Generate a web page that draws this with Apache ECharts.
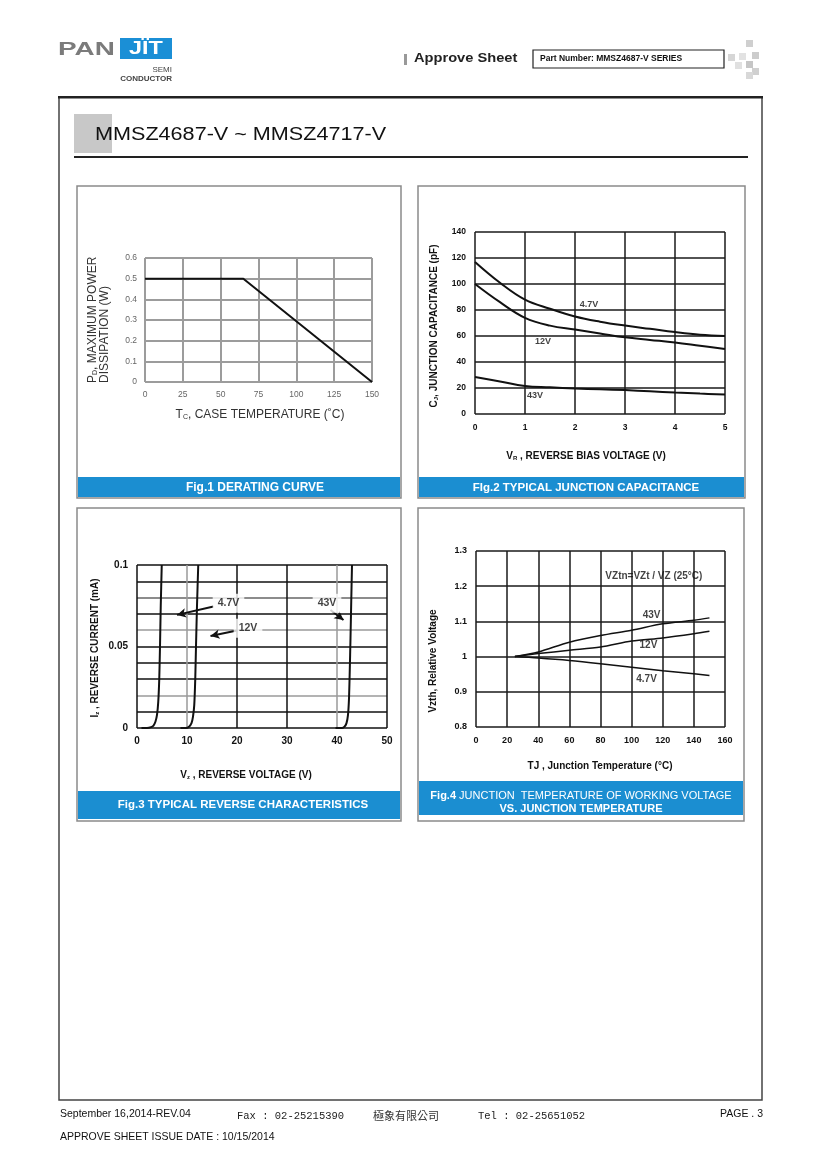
<!DOCTYPE html>
<html><head><meta charset="utf-8">
<script src="https://cdn.jsdelivr.net/npm/echarts@6/dist/echarts.min.js"></script>
<style>html,body{margin:0;padding:0;background:#fff}#c{width:820px;height:1160px}</style>
</head><body><div id="c"></div>
<script>
// ---------- DATA ----------
// Fig.1 derating curve  [Tc (°C), Pd (W)]
const fig1Derating = [[0,0.5],[65,0.5],[150,0]];

// Fig.2 junction capacitance [Vr (V), Cj (pF)]
const cap47 = [[0,117],[0.5,101],[1,88],[1.5,81],[2,75],[2.5,71],[3,68],[3.5,65.5],[4,63],[4.5,61],[5,60]];
const cap12 = [[0,100],[0.5,86],[1,74],[1.5,68],[2,65],[2.5,62],[3,59],[3.5,57],[4,55],[4.5,52.5],[5,50]];
const cap43 = [[0,28.5],[0.5,25],[1,21.5],[1.5,20.5],[2,19.6],[2.5,19],[3,18.4],[3.5,17.5],[4,16.5],[4.5,15.7],[5,15]];
const fig2Labels = [{name:'4.7V', value:[2.28,84.5]},{name:'12V', value:[1.36,56]},{name:'43V', value:[1.2,14]}];

// Fig.3 reverse characteristics [Vz (V), Iz (mA)]
const rev47 = [[0.9,0],[2,0],[2.8,0.0005],[3.3,0.0015],[3.7,0.004],[4.0,0.008],[4.25,0.016],[4.45,0.03],[4.6,0.05],[4.75,0.075],[4.95,0.1]];
const rev12 = [[8.7,0],[9.8,0],[10.4,0.0008],[10.9,0.003],[11.2,0.007],[11.45,0.014],[11.65,0.03],[11.8,0.05],[12.0,0.075],[12.25,0.1]];
const rev43 = [[39.7,0],[41,0],[41.5,0.0008],[41.9,0.003],[42.2,0.008],[42.4,0.018],[42.55,0.035],[42.7,0.055],[42.85,0.078],[43.0,0.1]];
const fig3Labels = [{name:'4.7V', value:[18.3,0.0765]},{name:'12V', value:[22.2,0.0612]},{name:'43V', value:[38,0.0765]}];
const fig3Arrows = [
  [[15.3,0.0745],[8.0,0.0694]],
  [[20.0,0.0598],[14.7,0.0565]],
  [[38.7,0.0724],[41.3,0.0663]]
];
const fig3YTickLabels = [0, 0.05, 0.1];

// Fig.4 relative working voltage vs junction temperature [Tj (°C), Vztn]
const vz43 = [[25,1],[40,1.013],[60,1.041],[80,1.06],[100,1.075],[120,1.093],[140,1.103],[150,1.11]];
const vz12 = [[25,1],[40,1.0085],[60,1.018],[80,1.027],[100,1.044],[120,1.053],[140,1.065],[150,1.072]];
const vz47 = [[25,1],[40,0.996],[60,0.989],[80,0.98],[100,0.97],[120,0.96],[140,0.951],[150,0.946]];
const fig4Labels = [{name:'43V', value:[112.8,1.118]},{name:'12V', value:[110.8,1.031]},{name:'4.7V', value:[109.6,0.935]},{name:'VZtn=VZt / VZ (25°C)', value:[114.3,1.227]}];

// ---------- CHART ----------
const SANS = '"Liberation Sans", Arial, sans-serif';
const chart = echarts.init(document.getElementById('c'), null, {renderer:'canvas'});

function axisCommon(extra){
  return Object.assign({
    axisLine:{show:false}, axisTick:{show:false},
    splitLine:{show:true, showMinLine:true, showMaxLine:true, lineStyle:{color:'#1a1a1a', width:1.5}},
    axisLabel:{showMinLabel:true, showMaxLabel:true, fontFamily:SANS, fontWeight:'bold', fontSize:9, color:'#111'}
  }, extra);
}
function T(x,y,text,o){
  o = o||{};
  const st = Object.assign({text:text, x:0, y:0, fill:o.fill||'#111',
    fontFamily:o.family||SANS, fontSize:o.size||10, fontWeight:o.weight||'normal',
    textAlign:o.align||'left', align:o.align||'left',
    textVerticalAlign:o.valign||'middle', verticalAlign:o.valign||'middle'}, o.style||{});
  if (o.rich) st.rich = o.rich;
  const el = {type:'text', x:x, y:y, z:100, style:st};
  if (o.rot) el.rotation = o.rot;
  if (o.sx) el.scaleX = o.sx;
  return el;
}
function R(x,y,w,h,fill,stroke,lw){
  return {type:'rect', z:1, shape:{x:x,y:y,width:w,height:h},
    style:{fill:fill||'none', stroke:stroke||null, lineWidth:lw||0}};
}
function sub(main, s, size, weight, fill, rest){
  return {text:'{a|'+main+'}{b|'+s+'}{a|'+rest+'}',
    rich:{a:{fontSize:size, fontWeight:weight, fill:fill, fontFamily:SANS, lineHeight:size+4, verticalAlign:'bottom'},
          b:{fontSize:Math.round(size*0.62), fontWeight:weight, fill:fill, fontFamily:SANS, lineHeight:size+4, verticalAlign:'bottom'}}};
}
function subText(x,y,main,s,rest,size,weight,fill,align,rot){
  const r = sub(main,s,size,weight,fill,rest);
  return T(x,y,r.text,{align:align, rot:rot, rich:r.rich, size:size, weight:weight, fill:fill});
}
function labelSeries(xi, data, size, bg){
  return {type:'scatter', xAxisIndex:xi, yAxisIndex:xi, data:data, symbol:'circle', symbolSize:1,
    itemStyle:{color:'rgba(0,0,0,0)'}, silent:true, z:5,
    label:{show:true, position:'inside', formatter:'{b}', fontFamily:SANS, fontWeight:'bold', fontSize:size, color:'#111',
      backgroundColor:bg||'transparent', padding:bg?[4,5]:0}};
}
function lineSeries(xi, data, w, sm){
  return {type:'line', xAxisIndex:xi, yAxisIndex:xi, data:data, showSymbol:false, symbol:'none',
    smooth:sm, lineStyle:{color:'#111', width:w}, silent:true, z:3};
}

const graphic = [];
// header
graphic.push(T(58,50,'PAN',{size:18, weight:'bold', fill:'#7b7b7b', sx:1.55}));
graphic.push(R(120,38,52,21,'#1b8fd6'));
graphic.push(T(146,49,'JÏT',{size:18, weight:'bold', fill:'#fff', align:'center', sx:1.3}));
graphic.push(T(172,70,'SEMI',{size:8, fill:'#444', align:'right'}));
graphic.push(T(172,79,'CONDUCTOR',{size:8, weight:'bold', fill:'#444', align:'right'}));
graphic.push(R(404,54,3,11,'#999'));
graphic.push(T(414,59,'Approve Sheet',{size:12, weight:'bold', fill:'#222', sx:1.22}));
graphic.push(R(533,50,191,18,'#fff','#222',1.2));
graphic.push(T(540,59,'Part Number: MMSZ4687-V SERIES',{size:8.5, weight:'bold', fill:'#111'}));
[[746,40,'#cfcfcf'],[728,54,'#d6d6d6'],[739,53,'#e2e2e2'],[752,52,'#cccccc'],[746,61,'#c6c6c6'],[735,62,'#e0e0e0'],[752,68,'#d0d0d0'],[746,72,'#d8d8d8']]
  .forEach(s=>graphic.push(R(s[0],s[1],7,7,s[2])));
// page frame
graphic.push(R(59,97,703,1003,'none','#444',1.5));
graphic.push(R(58,96,705,2.5,'#222'));
// title
graphic.push(R(74,114,38,39,'#c8c8c8'));
graphic.push(T(95,135,'MMSZ4687-V ~ MMSZ4717-V',{size:18, fill:'#111', sx:1.2}));
graphic.push(R(74,156,674,2,'#222'));
// panels
graphic.push(R(77,186,324,312,'none','#8a8a8a',1.5));
graphic.push(R(418,186,327,312,'none','#8a8a8a',1.5));
graphic.push(R(77,508,324,313,'none','#8a8a8a',1.5));
graphic.push(R(418,508,326,313,'none','#8a8a8a',1.5));
graphic.push(R(78,477,322,20,'#1b8ed1'));
graphic.push(R(419,477,325,20,'#1b8ed1'));
graphic.push(R(78,791,322,28,'#1b8ed1'));
graphic.push(R(419,781,324,34,'#1b8ed1'));
graphic.push(T(255,488,'Fig.1 DERATING CURVE',{size:12, weight:'bold', fill:'#fff', align:'center'}));
graphic.push(T(586,488,'FIg.2 TYPICAL JUNCTION CAPACITANCE',{size:11.5, weight:'bold', fill:'#fff', align:'center'}));
graphic.push(T(243,805,'Fig.3 TYPICAL REVERSE CHARACTERISTICS',{size:11.5, weight:'bold', fill:'#fff', align:'center'}));
graphic.push(T(581,796,'{b|Fig.4} {a|JUNCTION  TEMPERATURE OF WORKING VOLTAGE}',{size:11, fill:'#fff', align:'center',
  rich:{b:{fontSize:11, fontWeight:'bold', fill:'#fff', fontFamily:SANS}, a:{fontSize:11, fontWeight:'normal', fill:'#fff', fontFamily:SANS}}}));
graphic.push(T(581,809,'VS. JUNCTION TEMPERATURE',{size:11, weight:'bold', fill:'#fff', align:'center'}));
// axis names
graphic.push(subText(91,383,'P','D',', MAXIMUM POWER',12,'normal','#333','left',Math.PI/2));
graphic.push(T(105,383,'DISSIPATION (W)',{size:12, fill:'#333', rot:Math.PI/2}));
graphic.push(subText(260,413,'T','C',', CASE TEMPERATURE (˚C)',12,'normal','#333','center'));
graphic.push(subText(432,326,'C','J',', JUNCTION CAPACITANCE (pF)',10,'bold','#111','center',Math.PI/2));
graphic.push(subText(586,454,'V','R',' , REVERSE BIAS VOLTAGE (V)',10,'bold','#111','center'));
graphic.push(subText(93,648,'I','z',' , REVERSE CURRENT (mA)',10,'bold','#111','center',Math.PI/2));
graphic.push(subText(246,773,'V','z',' , REVERSE VOLTAGE (V)',10,'bold','#111','center'));
graphic.push(T(433,661,'Vzth, Relative Voltage',{size:10, weight:'bold', rot:Math.PI/2, align:'center'}));
graphic.push(T(600,766,'TJ , Junction Temperature (°C)',{size:10, weight:'bold', align:'center'}));
// footer
graphic.push(T(60,1114,'September 16,2014-REV.04',{size:10.5, fill:'#111'}));
graphic.push(T(237,1116,'Fax : 02-25215390',{size:10.5, fill:'#222', family:'"Liberation Mono", monospace'}));
graphic.push(T(373,1116,'極象有限公司',{size:11, fill:'#333', family:'"Noto Sans CJK TC", sans-serif'}));
graphic.push(T(478,1116,'Tel : 02-25651052',{size:10.5, fill:'#222', family:'"Liberation Mono", monospace'}));
graphic.push(T(763,1114,'PAGE . 3',{size:10.5, fill:'#111', align:'right'}));
graphic.push(T(60,1137,'APPROVE SHEET ISSUE DATE : 10/15/2014',{size:10.5, fill:'#111'}));

const option = {
  animation:false,
  backgroundColor:'#fff',
  grid:[
    {left:145, top:258, width:227, height:124},
    {left:475, top:232, width:250, height:182},
    {left:137, top:565, width:250, height:163},
    {left:476, top:551, width:249, height:176}
  ],
  xAxis:[
    axisCommon({gridIndex:0, type:'value', min:0, max:150, interval:25,
      splitLine:{show:true, showMinLine:true, showMaxLine:true, lineStyle:{color:'#9c9c9c', width:2}},
      axisLabel:{fontFamily:SANS, fontSize:8.5, color:'#666', margin:8}}),
    axisCommon({gridIndex:1, type:'value', min:0, max:5, interval:1, axisLabel:{fontFamily:SANS, fontWeight:'bold', fontSize:8.5, color:'#111', margin:9}}),
    axisCommon({gridIndex:2, type:'value', min:0, max:50, interval:10,
      splitLine:{show:true, showMinLine:true, showMaxLine:true, lineStyle:{color:['#111','#9a9a9a','#111','#111','#9a9a9a','#111'], width:1.5}},
      axisLabel:{fontFamily:SANS, fontWeight:'bold', fontSize:10, color:'#111', margin:8}}),
    axisCommon({gridIndex:3, type:'value', min:0, max:160, interval:20, axisLabel:{fontFamily:SANS, fontWeight:'bold', fontSize:9, color:'#111', margin:9}})
  ],
  yAxis:[
    axisCommon({gridIndex:0, type:'value', min:0, max:0.6, interval:0.1,
      splitLine:{show:true, showMinLine:true, showMaxLine:true, lineStyle:{color:'#9c9c9c', width:2}},
      axisLabel:{fontFamily:SANS, fontSize:8.5, color:'#666', margin:8}}),
    axisCommon({gridIndex:1, type:'value', min:0, max:140, interval:20, axisLabel:{fontFamily:SANS, fontWeight:'bold', fontSize:8.5, color:'#111', margin:9}}),
    axisCommon({gridIndex:2, type:'value', min:0, max:0.1, interval:0.01,
      splitLine:{show:true, showMinLine:true, showMaxLine:true, lineStyle:{color:['#111','#111','#9a9a9a','#111','#111','#111','#9a9a9a','#111','#666','#111','#111'], width:1.5}},
      axisLabel:{fontFamily:SANS, fontWeight:'bold', fontSize:10, color:'#111', margin:9,
        formatter:function(v){ for (const t of fig3YTickLabels){ if (Math.abs(v-t)<1e-9) return String(t); } return ''; }}}),
    axisCommon({gridIndex:3, type:'value', min:0.8, max:1.3, interval:0.1, axisLabel:{fontFamily:SANS, fontWeight:'bold', fontSize:9, color:'#111', margin:9}})
  ],
  series:[
    {type:'line', xAxisIndex:0, yAxisIndex:0, data:fig1Derating, showSymbol:false, symbol:'none', lineStyle:{color:'#111', width:2}, silent:true, z:3},
    lineSeries(1, cap47, 2, 0.4), lineSeries(1, cap12, 2, 0.4), lineSeries(1, cap43, 2, 0.4),
    labelSeries(1, fig2Labels, 9),
    lineSeries(2, rev47, 2, 0.2), lineSeries(2, rev12, 2, 0.2), lineSeries(2, rev43, 2, 0.2),
    Object.assign(labelSeries(2, fig3Labels, 10.5, '#fff'), {
      markLine:{silent:true, symbol:['none','arrow'], symbolSize:[7,9], animation:false,
        lineStyle:{color:'#111', width:2, type:'solid'}, label:{show:false},
        data: fig3Arrows.map(a=>[{coord:a[0]},{coord:a[1]}])}
    }),
    lineSeries(3, vz43, 1.5, 0.3), lineSeries(3, vz12, 1.5, 0.3), lineSeries(3, vz47, 1.5, 0.3),
    labelSeries(3, fig4Labels, 10)
  ],
  graphic: graphic
};
chart.setOption(option);
</script>
</body></html>
